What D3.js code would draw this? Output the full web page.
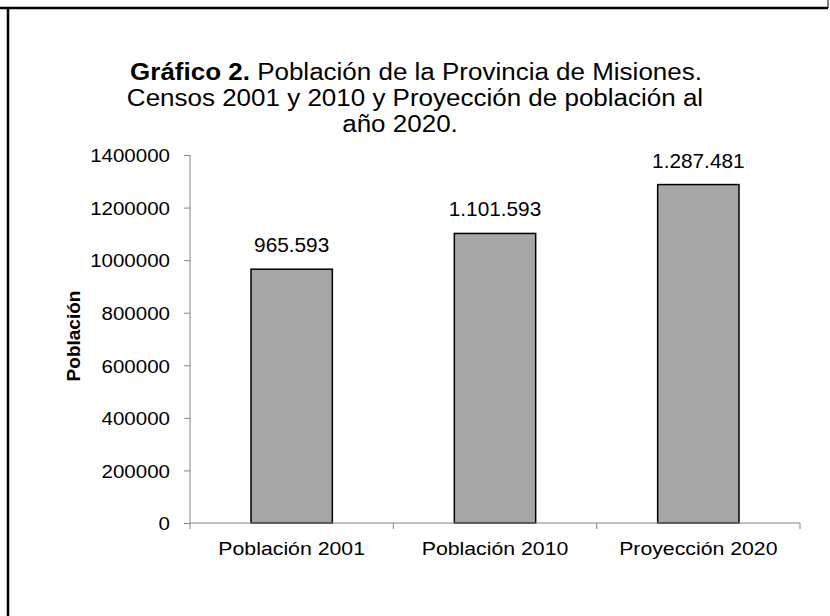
<!DOCTYPE html>
<html>
<head>
<meta charset="utf-8">
<script src="https://cdn.jsdelivr.net/npm/d3@7"></script>
<style>
  body { margin: 0; background: #fff; }
  svg { display: block; font-family: "Liberation Sans", Arial, sans-serif; }
</style>
</head>
<body>
<div id="chart"></div>
<script>
// data
var categories = ["Población 2001", "Población 2010", "Proyección 2020"];
var values = [965593, 1101593, 1287481];
var valueLabels = ["965.593", "1.101.593", "1.287.481"];
var yTicks = [0, 200000, 400000, 600000, 800000, 1000000, 1200000, 1400000];
var titleBold = ["Gráfico 2.", "", ""];
var titleRest = [" Población de la Provincia de Misiones.",
    "Censos 2001 y 2010 y Proyección de población al",
    "año 2020."];

var W = 830, H = 616;
var margin = {top: 155, right: 30, bottom: 93, left: 190},
    width = W - margin.left - margin.right,
    height = H - margin.top - margin.bottom;

var svg = d3.select("#chart").append("svg")
    .attr("width", W)
    .attr("height", H);

// outer frame lines
svg.append("line").attr("x1", 0).attr("x2", 828).attr("y1", 8).attr("y2", 8)
    .attr("stroke", "#000").attr("stroke-width", 2.5);
svg.append("line").attr("x1", 8).attr("x2", 8).attr("y1", 8).attr("y2", H)
    .attr("stroke", "#000").attr("stroke-width", 2.5);
svg.append("line").attr("x1", 828).attr("x2", 828).attr("y1", 0).attr("y2", 8)
    .attr("stroke", "#000").attr("stroke-width", 1);

// the picture looks stretched sideways a bit, so texts get a small x scale
function stretch(sel, sx) {
    sel.each(function() {
        var t = d3.select(this);
        var x = +t.attr("x") || 0, y = +t.attr("y") || 0;
        var old = t.attr("transform") || "";
        t.attr("x", 0).attr("y", 0)
            .attr("transform", old + " translate(" + x + "," + y + ") scale(" + sx + ",1)");
    });
}

// title
var titleX = [416, 415, 400];
titleRest.forEach(function(r, i) {
    var t = svg.append("text")
        .attr("class", "title")
        .attr("text-anchor", "middle")
        .attr("x", titleX[i])
        .attr("y", 80 + i * 26)
        .style("font-size", "23px");
    if (titleBold[i] != "") t.append("tspan").style("font-weight", "bold").text(titleBold[i]);
    t.append("tspan").text(r);
});
stretch(svg.selectAll("text.title"), 1.13);

var g = svg.append("g")
    .attr("transform", "translate(" + margin.left + "," + margin.top + ")");

var x = d3.scaleBand()
    .domain(categories)
    .range([0, width])
    .paddingInner(0.6)
    .paddingOuter(0.3);

var y = d3.scaleLinear()
    .domain([0, 1400000])
    .range([height, 0]);

// y axis
var yAxis = g.append("g")
    .call(d3.axisLeft(y).tickValues(yTicks).tickFormat(d3.format("d")).tickSize(6).tickPadding(14));
yAxis.selectAll("text").style("font-size", "19px").attr("fill", "#000").attr("dy", null)
    .attr("dominant-baseline", "central");
stretch(yAxis.selectAll("text"), 1.08);
yAxis.selectAll("line").attr("stroke", "#868686");
yAxis.select(".domain").attr("stroke", "#868686").attr("d", "M0,0V" + (height + 6));

// bars
g.selectAll("rect.bar")
    .data(values)
    .enter().append("rect")
    .attr("class", "bar")
    .attr("x", function(d, i) { return x(categories[i]); })
    .attr("y", function(d) { return y(d); })
    .attr("width", x.bandwidth())
    .attr("height", function(d) { return height - y(d); })
    .attr("fill", "#a6a6a6")
    .attr("stroke", "#000")
    .attr("stroke-width", 1.5);

// value labels
g.selectAll("text.vlabel")
    .data(values)
    .enter().append("text")
    .attr("class", "vlabel")
    .attr("text-anchor", "middle")
    .attr("x", function(d, i) { return x(categories[i]) + x.bandwidth() / 2; })
    .attr("y", function(d) { return y(d) - 17; })
    .style("font-size", "20px")
    .text(function(d, i) { return valueLabels[i]; });
stretch(g.selectAll("text.vlabel"), 1.04);

// x axis
var xAxis = g.append("g")
    .attr("transform", "translate(0," + height + ")")
    .call(d3.axisBottom(x).tickSize(0).tickPadding(19));
xAxis.selectAll("text").style("font-size", "19px").attr("fill", "#000");
stretch(xAxis.selectAll("text"), 1.12);
xAxis.select(".domain").attr("stroke", "#868686").attr("d", "M0,0H" + width);
// category separators
var step = x.step();
xAxis.selectAll("line.sep")
    .data([1, 2, 3])
    .enter().append("line")
    .attr("class", "sep")
    .attr("x1", function(d) { return x(categories[0]) - x.paddingOuter() * step + d * step; })
    .attr("x2", function(d) { return x(categories[0]) - x.paddingOuter() * step + d * step; })
    .attr("y1", 0).attr("y2", 6)
    .attr("stroke", "#868686");

// y axis title
g.append("text")
    .attr("transform", "translate(-110," + (height / 2 - 3) + ") rotate(-90)")
    .attr("text-anchor", "middle")
    .style("font-size", "19px")
    .style("font-weight", "bold")
    .text("Población");
</script>
</body>
</html>
